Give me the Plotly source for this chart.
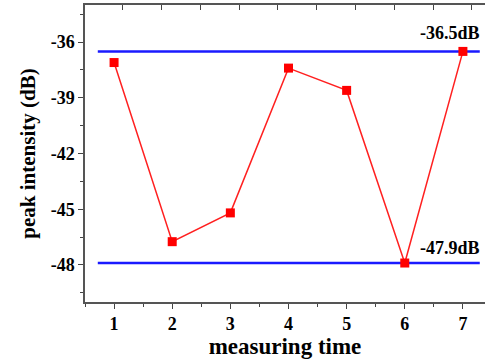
import plotly.graph_objects as go

measure = [1, 2, 3, 4, 5, 6, 7]
peak_db = [-37.1, -46.75, -45.2, -37.4, -38.6, -47.9, -36.5]
upper_level = -36.5
lower_level = -47.9
ref_x = [0.72, 7.29]
x_ticks = [1, 2, 3, 4, 5, 6, 7]
x_labels = ["1", "2", "3", "4", "5", "6", "7"]
y_ticks = [-48, -45, -42, -39, -36]
y_labels = ["-48", "-45", "-42", "-39", "-36"]

font_fam = "Liberation Serif"
fig = go.Figure()
fig.add_trace(go.Scatter(x=ref_x, y=[upper_level, upper_level], mode="lines",
                         line=dict(color="#1a1aff", width=2.5), hoverinfo="skip"))
fig.add_trace(go.Scatter(x=ref_x, y=[lower_level, lower_level], mode="lines",
                         line=dict(color="#1a1aff", width=2.5), hoverinfo="skip"))
fig.add_trace(go.Scatter(x=measure, y=peak_db, mode="lines+markers",
                         line=dict(color="#ff2020", width=1.5),
                         marker=dict(symbol="square", size=9, color="#ff0000")))

fig.add_annotation(x=7.33, y=-35.5, text="<b>-36.5dB</b>", showarrow=False,
                   xanchor="right", yanchor="middle",
                   font=dict(family=font_fam, size=18, color="black"))
fig.add_annotation(x=7.33, y=-47.1, text="<b>-47.9dB</b>", showarrow=False,
                   xanchor="right", yanchor="middle",
                   font=dict(family=font_fam, size=18, color="black"))

fig.update_layout(
    width=485, height=364,
    margin=dict(l=85, r=0, t=5, b=62),
    plot_bgcolor="white", paper_bgcolor="white",
    showlegend=False,
    font=dict(family=font_fam, color="black"),
    xaxis=dict(range=[0.5, 7.38], tickvals=x_ticks,
               ticktext=["<b>%s</b>" % t for t in x_labels],
               ticks="outside", ticklen=5,
               tickwidth=1, tickcolor="#444", showline=True, linecolor="#555",
               linewidth=1.5, showgrid=False, zeroline=False,
               tickfont=dict(family=font_fam, size=18, color="black"),
               minor=dict(dtick=0.5, tick0=0.5, ticks="outside", ticklen=3, tickcolor="#444"),
               title=dict(text="<b>measuring time</b>", standoff=0,
                          font=dict(family=font_fam, size=23, color="black"))),
    xaxis2=dict(overlaying="x", side="top", range=[0.027, 10.34], dtick=1, tick0=0,
                ticks="inside", ticklen=5, tickcolor="#444", showticklabels=False,
                showline=True, linecolor="#555", linewidth=1.5, showgrid=False,
                zeroline=False),
    yaxis=dict(range=[-50, -34], tickvals=y_ticks,
               ticktext=["<b>%s</b>" % t for t in y_labels],
               ticks="outside", ticklen=5,
               tickcolor="#444", showline=True, linecolor="#555", linewidth=1.5,
               showgrid=False, zeroline=False,
               tickfont=dict(family=font_fam, size=18, color="black"),
               minor=dict(dtick=1.5, tick0=-49.5, ticks="outside", ticklen=3, tickcolor="#444"),
               title=dict(text="<b>peak intensity (dB)</b>", standoff=9,
                          font=dict(family=font_fam, size=21, color="black"))),
)
fig.add_trace(go.Scatter(x=[None], y=[None], xaxis="x2", showlegend=False, hoverinfo="skip"))

fig.write_html("out.html")
